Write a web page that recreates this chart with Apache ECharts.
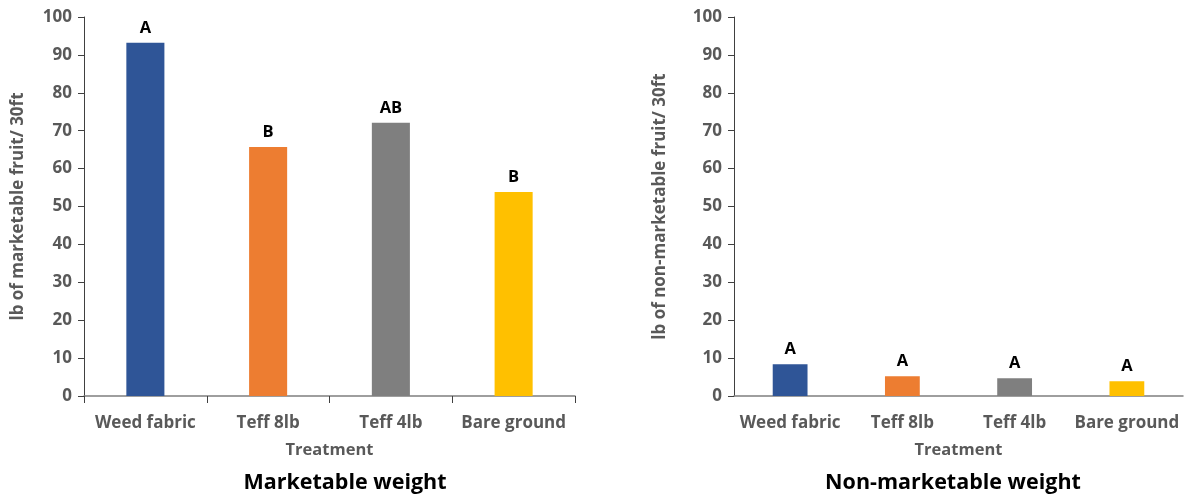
<!DOCTYPE html>
<html>
<head>
<meta charset="utf-8">
<script src="https://cdn.jsdelivr.net/npm/echarts@6/dist/echarts.min.js"></script>
<style>html,body{margin:0;padding:0;background:#fff;}#c{width:1192px;height:497px;}</style>
</head>
<body>
<div id="c"></div>
<script>
const categories = ['Weed fabric', 'Teff 8lb', 'Teff 4lb', 'Bare ground'];
const marketable = [93.2, 65.7, 72.1, 53.8];
const marketableLetters = ['A', 'B', 'AB', 'B'];
const nonMarketable = [8.4, 5.2, 4.7, 3.9];
const nonMarketableLetters = ['A', 'A', 'A', 'A'];
const yTicks = [0, 10, 20, 30, 40, 50, 60, 70, 80, 90, 100];
const colors = ['#2F5597', '#ED7D31', '#7F7F7F', '#FFC000'];

const FONT = '"Open Sans"';
const grey = '#595959';

function barData(vals, letters) {
  return vals.map((v, i) => ({
    value: v,
    itemStyle: { color: colors[i] },
    label: { formatter: letters[i] }
  }));
}

function yAxis(idx, name, gap) {
  return {
    gridIndex: idx, type: 'value', min: yTicks[0], max: yTicks[yTicks.length - 1], interval: 10,
    name: name, nameLocation: 'middle', nameGap: gap, nameRotate: 90,
    nameTextStyle: { color: grey, fontFamily: FONT, fontWeight: 'bold', fontSize: 17 },
    axisLine: { show: true, lineStyle: { color: '#404040', width: 1 } },
    axisTick: { show: true, length: 6, lineStyle: { color: '#404040' } },
    axisLabel: { color: grey, fontFamily: FONT, fontWeight: 'bold', fontSize: 17, margin: 12 },
    splitLine: { show: false }
  };
}
function xAxis(idx, ticks) {
  return {
    gridIndex: idx, type: 'category', data: categories,
    name: 'Treatment', nameLocation: 'middle', nameGap: 46,
    nameTextStyle: { color: grey, fontFamily: FONT, fontWeight: 'bold', fontSize: 16.5 },
    axisLine: { show: true, lineStyle: { color: '#7F7F7F', width: 1.5 } },
    axisTick: { show: ticks, length: 7, lineStyle: { color: '#404040' } },
    axisLabel: { color: grey, fontFamily: FONT, fontWeight: 'bold', fontSize: 17, margin: 19, interval: 0 }
  };
}
const labelStyle = { show: true, position: 'top', distance: 6, color: '#000', fontFamily: FONT, fontWeight: 'bold', fontSize: 16.5 };

const chart = echarts.init(document.getElementById('c'));
chart.setOption({
  backgroundColor: '#fff',
  animation: false,
  grid: [
    { left: 84, right: 1192 - 575, top: 17, bottom: 101 },
    { left: 734, right: 9, top: 17, bottom: 101 }
  ],
  title: [
    { text: 'Marketable weight', left: 340, top: 467, textAlign: 'center',
      textStyle: { color: '#000', fontFamily: FONT, fontWeight: 'bold', fontSize: 21.5 } },
    { text: 'Non-marketable weight', left: 948, top: 467, textAlign: 'center',
      textStyle: { color: '#000', fontFamily: FONT, fontWeight: 'bold', fontSize: 21.5 } }
  ],
  xAxis: [xAxis(0, true), xAxis(1, false)],
  yAxis: [yAxis(0, 'lb of marketable fruit/ 30ft', 57), yAxis(1, 'lb of non-marketable fruit/ 30ft', 65)],
  series: [
    { type: 'bar', xAxisIndex: 0, yAxisIndex: 0, barWidth: '31%', data: barData(marketable, marketableLetters), label: labelStyle },
    { type: 'bar', xAxisIndex: 1, yAxisIndex: 1, barWidth: '31%', data: barData(nonMarketable, nonMarketableLetters), label: labelStyle }
  ]
});
</script>
</body>
</html>
